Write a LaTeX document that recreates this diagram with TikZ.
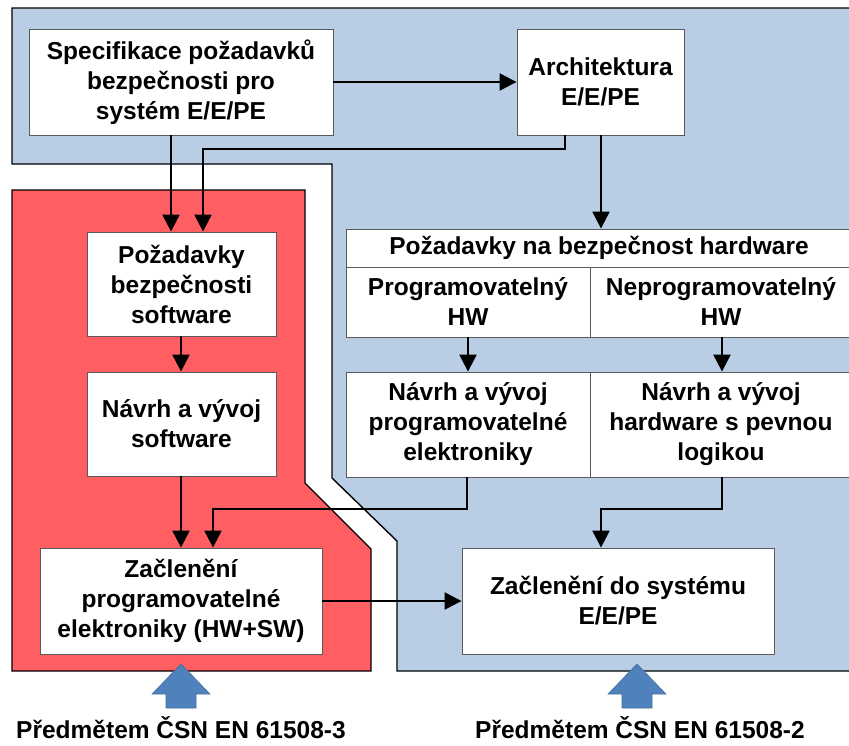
\documentclass[tikz,border=0pt]{standalone}
\usepackage{fontspec}
\setmainfont{Liberation Sans}
\usetikzlibrary{arrows.meta}
\definecolor{zoneblue}{HTML}{B9CDE5}
\definecolor{zonered}{HTML}{FF5E62}
\definecolor{boxline}{HTML}{5A5A5A}
\definecolor{upblue}{HTML}{4F81BD}
\definecolor{upblueedge}{HTML}{41719C}
\tikzset{
  lbl/.style={font=\fontsize{24.5pt}{30pt}\selectfont\bfseries, align=center},
  box/.style={lbl, draw=boxline, line width=0.9pt, fill=white, inner sep=0pt},
  zone/.style={draw=black, line width=1.4pt},
  conn/.style={draw=black, line width=2.3pt, -{Triangle[length=17pt,width=17pt]}},
  uparrow/.style={fill=upblue, draw=upblueedge, line width=0.6pt}
}
\begin{document}
\begin{tikzpicture}[x=1pt,y=-1pt]
\useasboundingbox (0,0) rectangle (849,745);
\clip (0,0) rectangle (849,745);
\fill[white] (0,0) rectangle (849,745);

% areas of the two standards
\draw[zone, fill=zoneblue] (870,8) -- (12,8) -- (12,164) -- (332,164) -- (332,478)
  -- (397,541) -- (397,671) -- (870,671);
\draw[zone, fill=zonered] (12,190) -- (305,190) -- (305,483) -- (371,549)
  -- (371,671) -- (12,671) -- cycle;

% boxes
\node[box, minimum width=304pt, minimum height=106pt] (spec) at (181,82)
  {Specifikace požadavků\\bezpečnosti pro\\systém E/E/PE};
\node[box, minimum width=167pt, minimum height=106pt] (arch) at (600.5,82)
  {Architektura\\E/E/PE};
\node[box, minimum width=189pt, minimum height=104pt] (swreq) at (181.5,284)
  {Požadavky\\bezpečnosti\\software};
\node[box, minimum width=189pt, minimum height=104pt] (swdes) at (181.5,424)
  {Návrh a vývoj\\software};
\node[box, minimum width=282pt, minimum height=106pt] (intpe) at (181,601)
  {Začlenění\\programovatelné\\elektroniky (HW+SW)};
\node[box, minimum width=312pt, minimum height=106pt] (intsys) at (618,601)
  {Začlenění do systému\\E/E/PE};

% hardware requirements table
\node[box, minimum width=506pt, minimum height=38pt] (hwhead) at (599,248)
  {Požadavky na bezpečnost hardware};
\node[box, minimum width=244pt, minimum height=70pt] (hwprog) at (468,302)
  {Programovatelný\\HW};
\node[box, minimum width=262pt, minimum height=70pt] (hwnprog) at (721,302)
  {Neprogramovatelný\\HW};
\node[box, minimum width=244pt, minimum height=105pt] (devprog) at (468,424.5)
  {Návrh a vývoj\\programovatelné\\elektroniky};
\node[box, minimum width=262pt, minimum height=105pt] (devfix) at (721,424.5)
  {Návrh a vývoj\\hardware s pevnou\\logikou};

% bend points
\coordinate (a1) at (565,149);
\coordinate (a2) at (203,149);
\coordinate (b1) at (467,509);
\coordinate (b2) at (213,509);
\coordinate (c1) at (722,509);
\coordinate (c2) at (601,509);

% connectors
\draw[conn] (spec.east) -- (arch.west);
\draw[conn] (spec.south -| 171,0) -- (swreq.north -| 171,0);
\draw[conn] (arch.south -| a1) -- (a1) -- (a2) -- (swreq.north -| a2);
\draw[conn] (arch.south -| 601,0) -- (hwhead.north -| 601,0);
\draw[conn] (hwprog.south) -- (devprog.north);
\draw[conn] (hwnprog.south -| 722,0) -- (devfix.north -| 722,0);
\draw[conn] (swreq.south -| 181,0) -- (swdes.north -| 181,0);
\draw[conn] (swdes.south -| 181,0) -- (intpe.north -| 181,0);
\draw[conn] (devprog.south -| b1) -- (b1) -- (b2) -- (intpe.north -| b2);
\draw[conn] (devfix.south -| c1) -- (c1) -- (c2) -- (intsys.north -| c2);
\draw[conn] (intpe.east) -- (intsys.west);

% scope arrows and captions
\node[lbl] (std3) at (181,728) {Předmětem ČSN EN 61508-3};
\node[lbl] (std2) at (640,728) {Předmětem ČSN EN 61508-2};
\draw[uparrow] (181,664) -- (210,694) -- (196,694) -- (196,708) -- (166,708)
  -- (166,694) -- (152,694) -- cycle;
\draw[uparrow] (637,664) -- (666,694) -- (652,694) -- (652,708) -- (622,708)
  -- (622,694) -- (608,694) -- cycle;
\end{tikzpicture}
\end{document}
